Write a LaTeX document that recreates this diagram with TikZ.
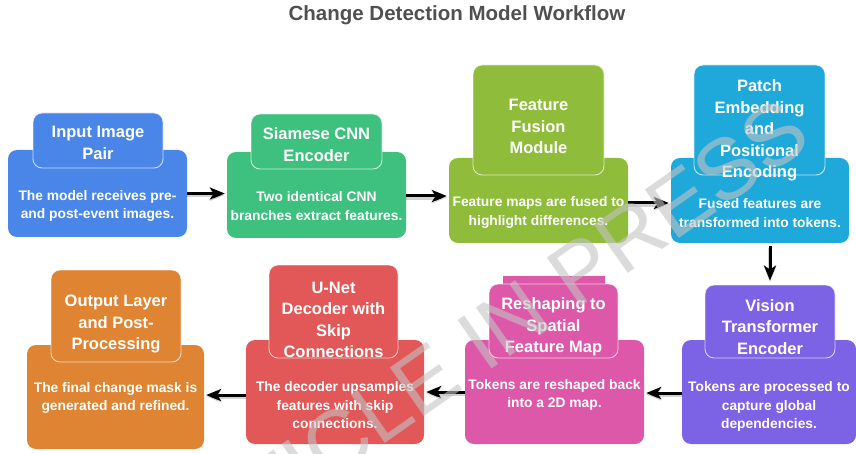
\documentclass[tikz,border=0pt]{standalone}
\usepackage{fontspec}
\setmainfont{Liberation Sans}
\usetikzlibrary{arrows.meta}

\definecolor{cBlue}{RGB}{74,134,232}
\definecolor{cGreen}{RGB}{62,193,126}
\definecolor{cLime}{RGB}{143,188,58}
\definecolor{cCyan}{RGB}{31,169,219}
\definecolor{cViolet}{RGB}{124,98,228}
\definecolor{cPink}{RGB}{221,88,168}
\definecolor{cRed}{RGB}{226,87,87}
\definecolor{cOrange}{RGB}{222,132,50}
\definecolor{titlegray}{RGB}{80,80,80}
\definecolor{markgray}{RGB}{195,195,195}

\tikzset{
  body/.style={rounded corners=9pt, inner sep=0pt, fill=#1},
  head/.style={rounded corners=9pt, inner sep=0pt, fill=#1,
    draw=white, draw opacity=0.7, line width=0.9pt},
  headtext/.style={text=white, align=center, inner sep=0pt,
    font=\fontsize{16.5}{21.5}\selectfont\bfseries},
  bodytext/.style={text=white, align=center, inner sep=0pt,
    font=\fontsize{13.8}{18.5}\selectfont\bfseries},
  arr/.style={line width=3pt, shorten >=2pt,
    -{Stealth[length=15pt,width=12pt,inset=4pt]},
    preaction={draw=black, draw opacity=0.18, line width=4.5pt,
      transform canvas={yshift=-1.5pt}}},
}

\begin{document}
\begin{tikzpicture}[x=1pt, y=-1pt]
\useasboundingbox (0,0) rectangle (856,454);
\fill[white] (0,0) rectangle (856,454);

% title
\node[text=titlegray, font=\fontsize{20.5}{24}\selectfont\bfseries] (title) at (457,15)
  {Change Detection Model Workflow};

% ---- top row ----
\node[body=cBlue, minimum width=179pt, minimum height=87pt] (b1) at (97.5,193.5) {};
\node[head=cBlue, minimum width=130pt, minimum height=55pt] (h1) at (98,140.5) {};
\node[headtext] (h1t) at (98,143) {Input Image\\Pair};
\node[bodytext] (b1t) at (97.5,206) {The model receives pre-\\and post-event images.};

\node[body=cGreen, minimum width=179pt, minimum height=86pt] (b2) at (316.5,195) {};
\node[head=cGreen, minimum width=131pt, minimum height=55pt] (h2) at (316.5,141.5) {};
\node[headtext] (h2t) at (316.5,144.5) {Siamese CNN\\Encoder};
\node[bodytext] (b2t) at (316.5,206) {Two identical CNN\\branches extract features.};

\node[body=cLime, minimum width=179pt, minimum height=85pt] (b3) at (538.5,200.5) {};
\node[head=cLime, minimum width=131pt, minimum height=110pt] (h3) at (538.5,120) {};
\node[headtext] (h3t) at (538.5,126.5) {Feature\\Fusion\\Module};
\node[bodytext] (b3t) at (538.5,212.5) {Feature maps are fused to\\highlight differences.};

\node[body=cCyan, minimum width=178pt, minimum height=85pt] (b4) at (760,200.5) {};
\node[head=cCyan, minimum width=131pt, minimum height=110pt] (h4) at (759.5,120) {};
\node[headtext] (h4t) at (759.5,130.5) {Patch\\Embedding\\and\\Positional\\Encoding};
\node[bodytext] (b4t) at (760,213) {Fused features are\\transformed into tokens.};

% ---- bottom row ----
\node[body=cViolet, minimum width=174pt, minimum height=104pt] (b5) at (769,392) {};
\node[head=cViolet, minimum width=130pt, minimum height=73pt] (h5) at (770,321.5) {};
\node[headtext] (h5t) at (770,327) {Vision\\Transformer\\Encoder};
\node[bodytext] (b5t) at (769,406.5) {Tokens are processed to\\capture global\\dependencies.};

\node[body=cPink, minimum width=179pt, minimum height=104pt] (b6) at (554.5,392) {};
\fill[cPink] (503,276) rectangle (605,287);
\node[head=cPink, minimum width=129pt, minimum height=74pt] (h6) at (553.5,321) {};
\node[headtext] (h6t) at (553.5,327) {Reshaping to\\Spatial\\Feature Map};
\node[bodytext] (b6t) at (554.5,395) {Tokens are reshaped back\\into a 2D map.};

\node[body=cRed, minimum width=178pt, minimum height=104pt] (b7) at (335,392) {};
\node[head=cRed, minimum width=129pt, minimum height=93pt] (h7) at (333.5,311.5) {};
\node[headtext] (h7t) at (333.5,320) {U-Net\\Decoder with\\Skip\\Connections};
\node[bodytext] (b7t) at (335,405.5) {The decoder upsamples\\features with skip\\connections.};

\node[body=cOrange, minimum width=177pt, minimum height=104pt] (b8) at (115.5,397) {};
\node[head=cOrange, minimum width=130pt, minimum height=92pt] (h8) at (116,316) {};
\node[headtext] (h8t) at (116,324) {Output Layer\\and Post-\\Processing};
\node[bodytext] (b8t) at (115.5,398) {The final change mask is\\generated and refined.};

% ---- connectors ----
\draw[arr] (b1.east) -- (b1.east -| b2.west);
\draw[arr] ([yshift=-1pt]b2.east) -- ([yshift=-1pt]b2.east -| b3.west);
\draw[arr] ([yshift=-2.5pt]b3.east) -- ([yshift=-2.5pt]b3.east -| b4.west);
\draw[arr, shorten <=3pt, shorten >=4pt] (h5.north |- b4.south) -- (h5.north);
\draw[arr] ([yshift=-1pt]b5.west) -- ([yshift=-1pt]b5.west -| b6.east);
\draw[arr] (b6.west) -- (b6.west -| b7.east);
\draw[arr] ([yshift=-3pt]b7.west) -- ([yshift=-3pt]b7.west -| b8.east);

% ---- watermark ----
\node[rotate=35, text=markgray, text opacity=0.6,
  font=\fontsize{86}{86}\selectfont] (mark) at (475,345) {ARTICLE IN PRESS};
\end{tikzpicture}
\end{document}
